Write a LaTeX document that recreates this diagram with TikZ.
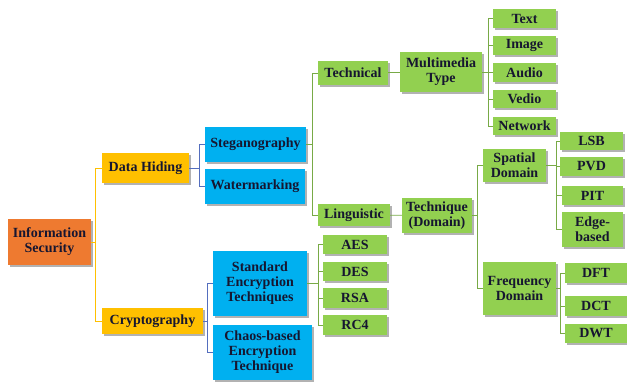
\documentclass[tikz,border=0pt]{standalone}
\usepackage{fontspec}
\setmainfont{Liberation Serif}
\usepackage{tikz}
\usetikzlibrary{shadows}

\definecolor{textnavy}{RGB}{22,22,48}
\definecolor{rootorange}{RGB}{238,122,48}
\definecolor{hideyellow}{RGB}{255,192,0}
\definecolor{methodblue}{RGB}{0,176,240}
\definecolor{leafgreen}{RGB}{146,208,80}
\definecolor{bluelink}{RGB}{84,110,190}
\definecolor{greenlink}{RGB}{120,170,70}

\begin{document}
\begin{tikzpicture}[
		x=1pt, y=-1pt,
		every node/.style={rectangle, align=center, inner sep=2pt, text=textnavy,
			font=\bfseries\fontsize{14}{15}\selectfont,
			drop shadow={shadow xshift=1.5pt, shadow yshift=-1.5pt, fill=black, opacity=0.3}},
		rootbox/.style={fill=rootorange},
		hidebox/.style={fill=hideyellow},
		methodbox/.style={fill=methodblue},
		leafbox/.style={fill=leafgreen},
		ylink/.style={draw=hideyellow, line width=0.8pt},
		blink/.style={draw=bluelink, line width=0.8pt},
		glink/.style={draw=greenlink, line width=0.8pt}
	]
  \useasboundingbox (0,0) rectangle (627,381);
  % first levels
  \node (info) [rootbox, minimum width=83pt, minimum height=46pt] at (49.5,242) {Information\\Security};
  \node (hiding) [hidebox, minimum width=87pt, minimum height=30pt] at (145.5,168) {Data Hiding};
  \node (crypto) [hidebox, minimum width=101pt, minimum height=26pt] at (152.5,321) {Cryptography};
  \node (stego) [methodbox, minimum width=101pt, minimum height=35pt] at (255.5,144.5) {Steganography};
  \node (water) [methodbox, minimum width=100pt, minimum height=35pt] at (255,186.5) {Watermarking};
  \node (standard) [methodbox, minimum width=94pt, minimum height=65pt] at (260,283.5) {Standard\\Encryption\\Techniques};
  \node (chaos) [methodbox, minimum width=99pt, minimum height=55pt] at (262.5,352.5) {Chaos-based\\Encryption\\Technique};
  % steganography branch
  \node (technical) [leafbox, minimum width=70pt, minimum height=24pt] at (353,73) {Technical};
  \node (linguistic) [leafbox, minimum width=72pt, minimum height=22pt] at (354,215) {Linguistic};
  \node (multimedia) [leafbox, minimum width=82pt, minimum height=40pt] at (441,72) {Multimedia\\Type};
  \node (technique) [leafbox, minimum width=70pt, minimum height=35pt] at (437,215.5) {Technique\\(Domain)};
  \node (text) [leafbox, minimum width=63pt, minimum height=19pt] at (524.5,18.5) {Text};
  \node (image) [leafbox, minimum width=63pt, minimum height=19pt] at (524.5,45.5) {Image};
  \node (audio) [leafbox, minimum width=63pt, minimum height=19pt] at (524.5,72.5) {Audio};
  \node (vedio) [leafbox, minimum width=63pt, minimum height=18pt] at (524.5,99) {Vedio};
  \node (network) [leafbox, minimum width=63pt, minimum height=18pt] at (524.5,126) {Network};
  \node (spatial) [leafbox, minimum width=63pt, minimum height=33pt] at (514.5,165.5) {Spatial\\Domain};
  \node (frequency) [leafbox, minimum width=73pt, minimum height=53pt] at (519.5,288.5) {Frequency\\Domain};
  \node (lsb) [leafbox, minimum width=63pt, minimum height=18pt] at (591.5,141) {LSB};
  \node (pvd) [leafbox, minimum width=63pt, minimum height=19pt] at (591.5,166.5) {PVD};
  \node (pit) [leafbox, minimum width=61pt, minimum height=19pt] at (592.5,195.5) {PIT};
  \node (edge) [leafbox, minimum width=61pt, minimum height=35pt] at (592.5,229.5) {Edge-\\based};
  \node (dft) [leafbox, minimum width=62pt, minimum height=20pt] at (596,273) {DFT};
  \node (dct) [leafbox, minimum width=62pt, minimum height=20pt] at (596,306) {DCT};
  \node (dwt) [leafbox, minimum width=62pt, minimum height=19pt] at (596,333.5) {DWT};
  % encryption branch
  \node (aes) [leafbox, minimum width=64pt, minimum height=19pt] at (355,244.5) {AES};
  \node (des) [leafbox, minimum width=64pt, minimum height=19pt] at (355,271.5) {DES};
  \node (rsa) [leafbox, minimum width=64pt, minimum height=20pt] at (355,298) {RSA};
  \node (rc4) [leafbox, minimum width=64pt, minimum height=20pt] at (355,325) {RC4};
  % links
  \foreach \c in {hiding,crypto} \draw[ylink] (info.east) -- ++(4,0) |- (\c.west);
  \foreach \c in {stego,water} \draw[blink] (hiding.east) -- ++(10,0) |- (\c.west);
  \foreach \c in {standard,chaos} \draw[blink] (crypto.east) -- ++(4,0) |- (\c.west);
  \foreach \c in {technical,linguistic} \draw[glink] (stego.east) -- ++(6,0) |- (\c.west);
  \foreach \c in {aes,des,rsa,rc4} \draw[glink] (standard.east) -- ++(11,0) |- (\c.west);
  \draw[glink] (technical) -- (multimedia);
  \draw[glink] (linguistic) -- (technique);
  \foreach \c in {text,image,audio,vedio,network} \draw[glink] (multimedia.east) -- ++(6,0) |- (\c.west);
  \foreach \c in {spatial,frequency} \draw[glink] (technique.east) -- ++(5,0) |- (\c.west);
  \foreach \c in {lsb,pvd,pit,edge} \draw[glink] (spatial.east) -- ++(10,0) |- (\c.west);
  \foreach \c in {dft,dct,dwt} \draw[glink] (frequency.east) -- ++(4,0) |- (\c.west);
\end{tikzpicture}
\end{document}
